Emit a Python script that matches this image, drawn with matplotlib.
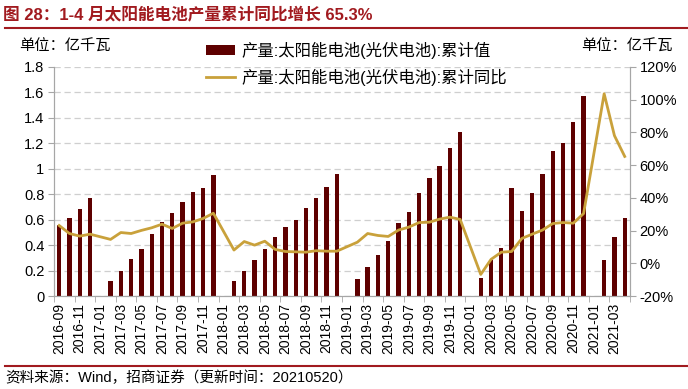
import numpy as np
import matplotlib
matplotlib.use("Agg")
import matplotlib.pyplot as plt
from matplotlib.lines import Line2D
from matplotlib.ticker import FuncFormatter

plt.rcParams['font.family'] = ['Liberation Sans', 'Noto Sans CJK SC', 'DejaVu Sans']

# monthly from 2016-09 to 2021-04; January has no data
months = []
for y in range(2016, 2022):
    for m in range(1, 13):
        if (y == 2016 and m < 9) or (y == 2021 and m > 4):
            continue
        months.append(f"{y}-{m:02d}")

# cumulative output, 亿千瓦 (None = no data)
cum_value = [0.56, 0.61, 0.68, 0.77,
             None, 0.12, 0.20, 0.29, 0.37, 0.49, 0.58, 0.65, 0.74, 0.82, 0.85, 0.95,
             None, 0.12, 0.20, 0.28, 0.37, 0.46, 0.54, 0.60, 0.69, 0.77, 0.86, 0.96,
             None, 0.13, 0.23, 0.32, 0.43, 0.57, 0.66, 0.81, 0.93, 1.02, 1.16, 1.29,
             None, 0.14, 0.28, 0.38, 0.85, 0.67, 0.81, 0.96, 1.14, 1.20, 1.37, 1.57,
             None, 0.28, 0.46, 0.61]

# cumulative YoY, %
cum_yoy = [23.1, 18.2, 16.6, 17.8,
           None, 14.6, 18.8, 18.2, 20.1, 21.7, 23.9, 21.3, 24.5, 25.3, 27.4, 30.6,
           None, 8.1, 13.3, 11.1, 13.5, 8.5, 7.2, 7.0, 6.8, 7.7, 7.4, 7.4,
           None, 12.9, 18.2, 17.0, 16.4, 20.3, 22.1, 24.9, 25.1, 27.0, 28.2, 26.8,
           None, -6.8, 2.4, 6.8, 7.2, 15.2, 17.8, 20.3, 24.3, 24.9, 24.5, 30.4,
           None, 103.6, 78.0, 65.3]

bar_color = '#5E0000'
line_color = '#C9A13B'
red = '#A11A1F'
spine_gray = '#A6A6A6'

x = np.arange(len(months))
vals = np.array([np.nan if v is None else v for v in cum_value])
yoy = np.array([np.nan if v is None else v for v in cum_yoy])

fig = plt.figure(figsize=(6.88, 3.89), dpi=100)
ax = fig.add_axes([0.0785, 0.239, 0.837, 0.589])
ax2 = ax.twinx()

ax.bar(x, np.nan_to_num(vals), width=0.42, color=bar_color, zorder=2,
       label='产量:太阳能电池(光伏电池):累计值')
ok = ~np.isnan(yoy)
ax2.plot(x[ok], yoy[ok], color=line_color, lw=2, solid_joinstyle='round',
         label='产量:太阳能电池(光伏电池):累计同比')

ax.set_xlim(-0.5, len(months) - 0.5)
ax.set_ylim(0, 1.8)
ax.set_yticks(np.arange(0, 1.81, 0.2))
ax.yaxis.set_major_formatter(FuncFormatter(lambda v, p: f"{v:g}"))
ax2.set_ylim(-20, 120)
ax2.set_yticks(np.arange(-20, 121, 20))
ax2.yaxis.set_major_formatter(FuncFormatter(lambda v, p: f"{v:.0f}%"))

ax.grid(axis='y', color='#CFCFCF', ls=(0, (5, 3)), lw=0.9, zorder=0)
ax.set_axisbelow(True)

ax.set_xticks(x[::2])
ax.set_xticklabels(months[::2], rotation=90)
ax.set_xticks(np.arange(-0.5, len(months), 2), minor=True)
ax.tick_params(axis='x', which='major', length=0, labelsize=10, pad=5)
ax.tick_params(axis='x', which='minor', length=4, color=spine_gray)
ax.tick_params(axis='y', length=4, color=spine_gray, labelsize=10.5, pad=3)
ax2.tick_params(axis='y', length=4, color=spine_gray, labelsize=10.5, pad=3)

for a in (ax, ax2):
    a.spines['top'].set_visible(False)
    for s in ('left', 'right', 'bottom'):
        a.spines[s].set_color(spine_gray)

fig.text(0.005, 0.963, '图 28：1-4 月太阳能电池产量累计同比增长 65.3%', color=red,
         fontsize=12, fontweight='bold', va='center', ha='left')
fig.add_artist(Line2D([0.007, 1.0], [0.928, 0.928], color=red, lw=1.5))
fig.add_artist(Line2D([0.007, 1.0], [0.059, 0.059], color=red, lw=1.5))
fig.text(0.007, 0.028, '资料来源：Wind，招商证券（更新时间：20210520）',
         fontsize=10.5, va='center', ha='left')
fig.text(0.028, 0.879, '单位：亿千瓦', fontsize=11, va='center', ha='left')
fig.text(0.845, 0.879, '单位：亿千瓦', fontsize=11, va='center', ha='left')

h1, l1 = ax.get_legend_handles_labels()
h2, l2 = ax2.get_legend_handles_labels()
fig.legend(h1 + h2, l1 + l2, loc='upper left', bbox_to_anchor=(0.299, 0.893),
           frameon=False, fontsize=11.8, handlelength=1.8, handleheight=0.5,
           handletextpad=0.4, labelspacing=0.6, borderpad=0, borderaxespad=0)

fig.savefig('out.png', dpi=100)
